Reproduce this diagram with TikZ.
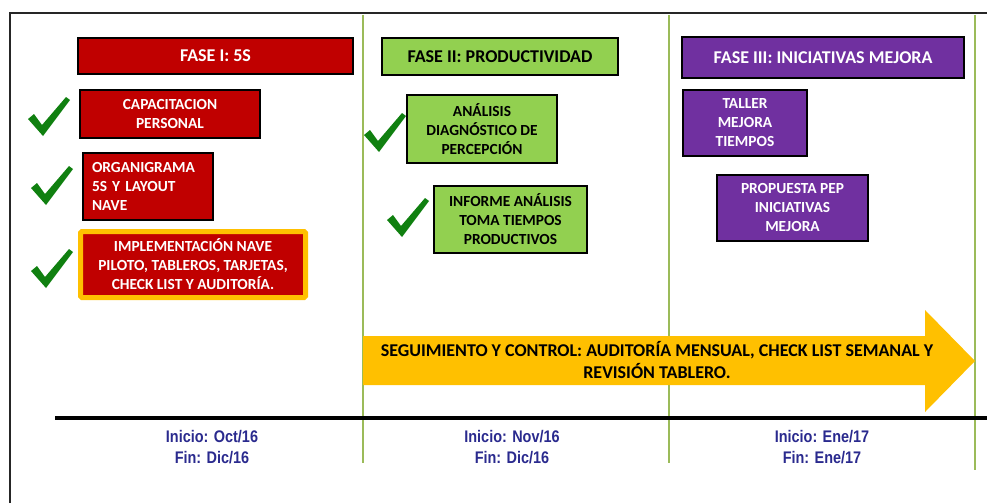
\documentclass[tikz,border=0pt]{standalone}
\usepackage{fontspec}
\setmainfont{Carlito}
\newfontfamily\datefont[FakeStretch=0.86]{Liberation Sans}
\usetikzlibrary{positioning}

\definecolor{faseRed}{HTML}{C00000}
\definecolor{faseGreen}{HTML}{92D050}
\definecolor{fasePurple}{HTML}{7030A0}
\definecolor{segYellow}{HTML}{FFC000}
\definecolor{lineGreen}{HTML}{9BBB59}
\definecolor{tickGreen}{HTML}{108010}
\definecolor{dateBlue}{HTML}{2A2A8E}

\tikzset{
  tick/.pic={\fill[tickGreen] (0,22) -- (6,17) -- (14,28) -- (38,0) -- (42,3) -- (15,39) -- cycle;}
}

\begin{document}
\begin{tikzpicture}[x=1pt, y=-1pt,
  box/.style={rectangle, draw=black, line width=1.6pt, inner sep=0pt, align=center, font=\bfseries\fontsize{15.4}{19}\selectfont},
  redbox/.style={box, fill=faseRed, text=white},
  greenbox/.style={box, fill=faseGreen, text=black},
  purplebox/.style={box, fill=fasePurple, text=white},
  title/.style={font=\bfseries\fontsize{18}{20}\selectfont},
  date/.style={text=dateBlue, align=center, font=\datefont\bfseries\fontsize{16.8}{21.5}\selectfont}
]
  \useasboundingbox (0,0) rectangle (987,503);
  % frame
  \draw[line width=1.3pt, black!85] (10,503) -- (10,13) -- (987,13);

  % period separators
  \foreach \sx/\sy in {363/463, 669/463, 975/470}
    \draw[lineGreen, line width=1.8pt] (\sx,15) -- (\sx,\sy);

  % timeline
  \coordinate (tl0) at (55,418);
  \coordinate (tl1) at (987,418);
  \draw[line width=4pt] (tl0) -- (tl1);

  % follow-up arrow
  \fill[segYellow] (363,336) -- (925,336) -- (925,310) -- (975,361) -- (925,412) -- (925,385) -- (363,385) -- cycle;
  \node[align=center, font=\bfseries\fontsize{18}{22}\selectfont] (seguimiento) at (657,360)
    {SEGUIMIENTO Y CONTROL: AUDITORÍA MENSUAL, CHECK LIST SEMANAL Y\\REVISIÓN TABLERO.};

  % fase I
  \node[redbox, title, minimum width=275pt, minimum height=36pt] (fase1) at (215.5,56) {FASE I: 5S};
  \node[redbox, minimum width=180pt, minimum height=48pt] (capacitacion) at (170,114) {CAPACITACION\\PERSONAL};
  \node[redbox, align=left, text width=112pt, minimum width=130pt, minimum height=67pt] (organigrama) at (148,186.5) {ORGANIGRAMA\\5S Y LAYOUT\\NAVE};
  \node[redbox, draw=segYellow, line width=5pt, rounded corners=1.5pt, minimum width=225pt, minimum height=66pt] (implementacion) at (193,264.5)
    {IMPLEMENTACIÓN NAVE\\PILOTO, TABLEROS, TARJETAS,\\CHECK LIST Y AUDITORÍA.};

  % fase II
  \node[greenbox, title, minimum width=236pt, minimum height=37pt] (fase2) at (500,56.5) {FASE II: PRODUCTIVIDAD};
  \node[greenbox, minimum width=150pt, minimum height=68pt] (analisis) at (482,129) {ANÁLISIS\\DIAGNÓSTICO DE\\PERCEPCIÓN};
  \node[greenbox, minimum width=153pt, minimum height=67pt] (informe) at (510.5,219.5) {INFORME ANÁLISIS\\TOMA TIEMPOS\\PRODUCTIVOS};

  % fase III
  \node[purplebox, title, minimum width=282pt, minimum height=41pt] (fase3) at (823,57.5) {FASE III: INICIATIVAS MEJORA};
  \node[purplebox, minimum width=124pt, minimum height=66pt] (taller) at (745,123) {TALLER\\MEJORA\\TIEMPOS};
  \node[purplebox, minimum width=151pt, minimum height=66pt] (propuesta) at (792.5,208) {PROPUESTA PEP\\INICIATIVAS\\MEJORA};

  % completed tasks
  \foreach \tx/\ty in {28/97, 31/166, 31/249, 364/113, 387/198}
    \pic at (\tx,\ty) {tick};

  % dates
  \node[date] (fecha1) at (212,447) {Inicio: Oct/16\\Fin: Dic/16};
  \node[date] (fecha2) at (512,447) {Inicio: Nov/16\\Fin: Dic/16};
  \node[date] (fecha3) at (822,447) {Inicio: Ene/17\\Fin: Ene/17};
\end{tikzpicture}
\end{document}
